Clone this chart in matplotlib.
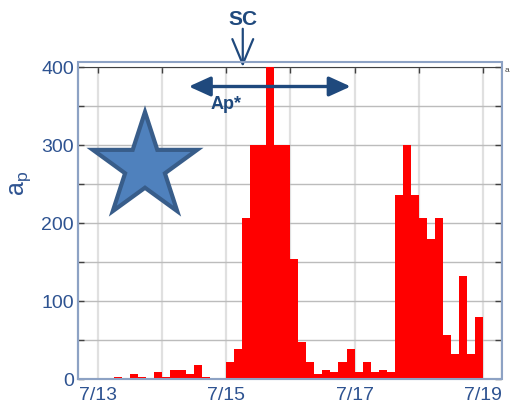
import numpy as np
import matplotlib
matplotlib.use('Agg')
from matplotlib import pyplot as plt
from matplotlib.patches import Polygon, Rectangle
from matplotlib.transforms import IdentityTransform

plt.rcParams['font.family'] = ['Liberation Sans', 'DejaVu Sans']

# 3-hourly ap, one row per day, 7/13 .. 7/18
ap_0713 = [0, 0, 3, 0, 7, 3, 0, 9]
ap_0714 = [3, 12, 12, 7, 18, 3, 0, 0]
ap_0715 = [22, 39, 207, 300, 300, 400, 300, 300]
ap_0716 = [154, 48, 22, 7, 12, 9, 22, 39]
ap_0717 = [9, 22, 9, 12, 9, 236, 300, 236]
ap_0718 = [207, 179, 207, 56, 32, 132, 32, 80]
first_day = 13
day_ticks = [13, 14, 15, 16, 17, 18, 19]
day_labels = ['7/13', '', '7/15', '', '7/17', '', '7/19']
y_ticks = [0, 100, 200, 300, 400]

sc_time = 15.26           # sudden commencement
ap_star_span = (14.42, 16.94)

ap = np.array(ap_0713 + ap_0714 + ap_0715 + ap_0716 + ap_0717 + ap_0718)
t = first_day + np.arange(len(ap)) / 8.0

navy = '#1f497d'
lab = '#2e5391'

W, H = 511, 407
fig = plt.figure(figsize=(W/100, H/100), dpi=100)
L, R, T, B = 78, 501, 67, 379
ax = fig.add_axes([L/W, 1 - B/H, (R-L)/W, (B-T)/H])

ax.bar(t, ap, width=1/8, align='edge', color='#ff0000', linewidth=0, zorder=3)

ax.set_xlim(12.695, 19.28)
ax.set_ylim(0, 400)
ax.set_xticks(day_ticks)
ax.set_xticklabels(day_labels)
ax.set_yticks(y_ticks)
ax.set_yticks(np.arange(50, 400, 100), minor=True)

ax.grid(axis='y', which='both', color='#bcbcbc', lw=1.0, zorder=1)
ax.grid(axis='x', which='major', color='#e0e0e0', lw=1.6, zorder=1)

ax.tick_params(axis='both', which='both', direction='in', length=4,
               color='#404040', width=1, labelsize=14, labelcolor=lab)
ax.tick_params(axis='y', which='both', left=True, right=True, pad=3)
ax.tick_params(axis='x', which='both', top=True, bottom=False, pad=6)

ax.spines['left'].set_color('#5b7db5')
ax.spines['left'].set_linewidth(1.5)
ax.spines['bottom'].set_color('#8fa8d0')
ax.spines['bottom'].set_linewidth(1.5)
ax.spines['top'].set_color('#404040')
ax.spines['right'].set_color('#404040')

fig.text(21/W, 1 - 183/H, 'a$_\\mathregular{p}$', fontsize=18, color=lab,
         rotation=90, ha='center', va='center')

# outer frame around the plot box
fig.add_artist(Rectangle((L, H - B), 502 - L, B - 62, fill=False,
                         edgecolor='#8da2c4', lw=1.5,
                         transform=IdentityTransform()))

# SC marker
ax.annotate('', xy=(sc_time, 400), xytext=(sc_time, 449),
            arrowprops=dict(arrowstyle='->,head_length=1.2,head_width=0.5',
                            color=navy, lw=1.6, mutation_scale=15,
                            shrinkA=0, shrinkB=0),
            annotation_clip=False)
ax.text(sc_time, 461, 'SC', ha='center', va='center', fontsize=15,
        fontweight='bold', color=navy, clip_on=False)

# Ap* interval
ax.annotate('', xy=(ap_star_span[0], 375), xytext=(ap_star_span[1], 375),
            arrowprops=dict(arrowstyle='<|-|>,head_length=1.1,head_width=0.5',
                            color=navy, lw=2.4, mutation_scale=12,
                            shrinkA=0, shrinkB=0),
            annotation_clip=False, zorder=5)
ax.text(15.0, 352, 'Ap*', ha='center', va='center', fontsize=13,
        fontweight='bold', color=navy, zorder=5)

# star
cx, cy, ro = 145, 166.8, 54.8
ri = 0.382 * ro
pts = []
for k in range(10):
    a = np.pi / 2 + k * np.pi / 5
    r = ro if k % 2 == 0 else ri
    pts.append((cx + r * np.cos(a), H - (cy - r * np.sin(a))))
fig.add_artist(Polygon(pts, closed=True, facecolor='#4f81bd',
                       edgecolor='#385d8a', lw=3, joinstyle='miter',
                       transform=IdentityTransform(), zorder=6))

fig.text(505/W, 1 - 71/H, 'a', fontsize=6, color='#404040',
         ha='left', va='center')

fig.savefig('out.png', dpi=100)
